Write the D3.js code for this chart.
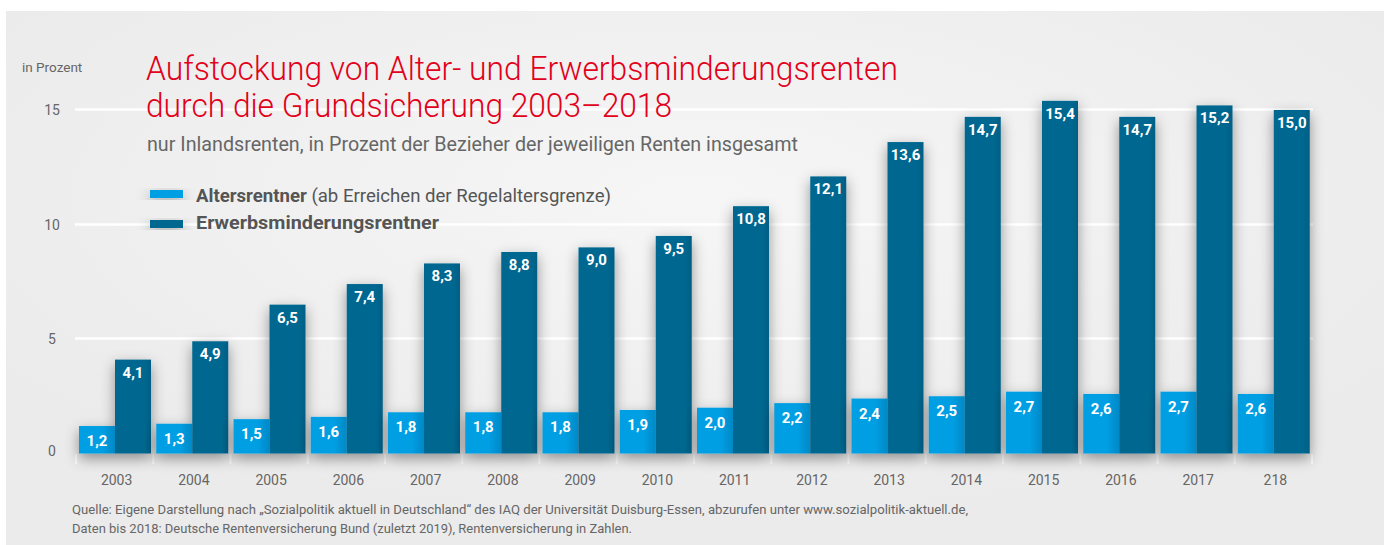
<!DOCTYPE html>
<html>
<head>
<meta charset="utf-8">
<script src="https://cdn.jsdelivr.net/npm/d3@7"></script>
<style>
  body { margin: 0; background: #fff; }
  svg { display: block; }
  text { font-family: Roboto, 'Open Sans', sans-serif; }
</style>
</head>
<body>
<div id="chart1"></div>
<script>
'use strict';

// data
var years = ['2003', '2004', '2005', '2006', '2007', '2008', '2009', '2010',
	'2011', '2012', '2013', '2014', '2015', '2016', '2017', '218'];
var altersrentner = [1.2, 1.3, 1.5, 1.6, 1.8, 1.8, 1.8, 1.9, 2.0, 2.2, 2.4, 2.5, 2.7, 2.6, 2.7, 2.6];
var erwerbsminderung = [4.1, 4.9, 6.5, 7.4, 8.3, 8.8, 9.0, 9.5, 10.8, 12.1, 13.6, 14.7, 15.4, 14.7, 15.2, 15.0];
var yTicks = [0, 5, 10, 15];
var seriesKeys = ['alt', 'erw'];

var width = 1387;
var height = 545;

var svg = d3.select('#chart1').append('svg')
	.attr('width', width)
	.attr('height', height);

var defs = svg.append('defs');

var bg = defs.append('radialGradient')
	.attr('id', 'bg')
	.attr('cx', '0.5').attr('cy', '0.35').attr('r', '0.6');
bg.append('stop').attr('offset', '0%').attr('stop-color', '#f6f6f6');
bg.append('stop').attr('offset', '100%').attr('stop-color', '#ebebeb');

var lightGrad = defs.append('linearGradient').attr('id', 'lightGrad');
lightGrad.append('stop').attr('offset', '0%').attr('stop-color', '#009fe3');
lightGrad.append('stop').attr('offset', '65%').attr('stop-color', '#009fe3');
lightGrad.append('stop').attr('offset', '100%').attr('stop-color', '#0088c6');

var darkGrad = defs.append('linearGradient').attr('id', 'darkGrad');
darkGrad.append('stop').attr('offset', '0%').attr('stop-color', '#006890');
darkGrad.append('stop').attr('offset', '80%').attr('stop-color', '#006890');
darkGrad.append('stop').attr('offset', '100%').attr('stop-color', '#005f85');

var shadow = defs.append('filter')
	.attr('id', 'shadow')
	.attr('x', '-50%').attr('y', '-20%').attr('width', '200%').attr('height', '140%');
shadow.append('feDropShadow')
	.attr('dx', 0).attr('dy', 5)
	.attr('stdDeviation', 7)
	.attr('flood-color', '#000')
	.attr('flood-opacity', 0.4);

// panel
svg.append('rect')
	.attr('x', 6).attr('y', 11)
	.attr('width', 1378).attr('height', height - 11)
	.attr('fill', 'url(#bg)');

var x = d3.scaleBand()
	.domain(years)
	.range([76, 1312]);

var xInner = d3.scaleBand()
	.domain(seriesKeys)
	.range([3, 75]);

var y = d3.scaleLinear()
	.domain([0, 15])
	.range([453.5, 110]);

var fmt = function(v) {
	return d3.format('.1f')(v).replace('.', ',');
};

// gridlines
svg.append('g').selectAll('line')
	.data(yTicks.filter(function(d) { return d > 0; }))
	.enter().append('line')
	.attr('x1', 75).attr('x2', 1313)
	.attr('y1', function(d) { return Math.round(y(d)) - 0.5; })
	.attr('y2', function(d) { return Math.round(y(d)) - 0.5; })
	.style('stroke', '#ffffff')
	.style('stroke-width', 2.5);

// y labels
svg.append('g').selectAll('text')
	.data(yTicks)
	.enter().append('text')
	.attr('x', 52)
	.attr('y', function(d) { return y(d) + (d === 0 ? 2 : 5); })
	.attr('text-anchor', 'middle')
	.style('font-size', '14px')
	.style('fill', '#666')
	.text(function(d) { return d; });

svg.append('text')
	.attr('x', 22).attr('y', 72)
	.style('font-size', '13.5px')
	.style('fill', '#666')
	.text('in Prozent');

// title block
var title = svg.append('g').style('fill', '#e2001a');
title.append('text')
	.attr('x', 146).attr('y', 80)
	.attr('textLength', 752).attr('lengthAdjust', 'spacingAndGlyphs')
	.style('font-size', '33px').style('font-weight', 300)
	.text('Aufstockung von Alter- und Erwerbsminderungsrenten');
title.append('text')
	.attr('x', 146).attr('y', 117)
	.attr('textLength', 526).attr('lengthAdjust', 'spacingAndGlyphs')
	.style('font-size', '33px').style('font-weight', 300)
	.text('durch die Grundsicherung 2003\u20132018');

svg.append('text')
	.attr('x', 147).attr('y', 151)
	.attr('textLength', 651).attr('lengthAdjust', 'spacingAndGlyphs')
	.style('font-size', '20px').style('font-weight', 400)
	.style('fill', '#666')
	.text('nur Inlandsrenten, in Prozent der Bezieher der jeweiligen Renten insgesamt');

// legend
var legend = svg.append('g');
legend.append('rect')
	.attr('x', 150).attr('y', 190).attr('width', 33).attr('height', 8)
	.attr('fill', '#009fe3').attr('filter', 'url(#shadow)');
legend.append('rect')
	.attr('x', 150).attr('y', 220).attr('width', 33).attr('height', 8)
	.attr('fill', '#006890').attr('filter', 'url(#shadow)');
var l1 = legend.append('text')
	.attr('x', 196).attr('y', 202)
	.attr('textLength', 415).attr('lengthAdjust', 'spacingAndGlyphs')
	.style('font-size', '18px').style('fill', '#555');
l1.append('tspan').style('font-weight', 700).text('Altersrentner');
l1.append('tspan').text(' (ab Erreichen der Regelaltersgrenze)');
legend.append('text')
	.attr('x', 196).attr('y', 229)
	.attr('textLength', 243).attr('lengthAdjust', 'spacingAndGlyphs')
	.style('font-size', '18px').style('font-weight', 700).style('fill', '#555')
	.text('Erwerbsminderungsrentner');

// axis ticks under the bars
svg.append('g').selectAll('line')
	.data(years.concat(['end']))
	.enter().append('line')
	.attr('x1', function(d, i) { return x.range()[0] + i * x.step(); })
	.attr('x2', function(d, i) { return x.range()[0] + i * x.step(); })
	.attr('y1', 454).attr('y2', 464)
	.style('stroke', '#fafafa')
	.style('stroke-width', 2);

// bars
var rows = years.map(function(yr, i) {
	return {year: yr, alt: altersrentner[i], erw: erwerbsminderung[i]};
});

var groups = svg.append('g').selectAll('g')
	.data(rows)
	.enter().append('g')
	.attr('transform', function(d) { return 'translate(' + x(d.year) + ',0)'; });

groups.append('g')
	.attr('filter', 'url(#shadow)')
	.selectAll('rect')
	.data(function(d) { return seriesKeys.map(function(k) { return {key: k, value: d[k]}; }); })
	.enter().append('rect')
	.attr('x', function(d) { return xInner(d.key); })
	.attr('width', xInner.bandwidth())
	.attr('y', function(d) { return y(d.value); })
	.attr('height', function(d) { return y(0) - y(d.value); })
	.attr('fill', function(d) { return d.key === 'alt' ? 'url(#lightGrad)' : 'url(#darkGrad)'; });

groups.selectAll('text.val')
	.data(function(d) { return seriesKeys.map(function(k) { return {key: k, value: d[k]}; }); })
	.enter().append('text')
	.attr('class', 'val')
	.attr('x', function(d) { return xInner(d.key) + xInner.bandwidth() / 2; })
	.attr('y', function(d) { return y(d.value) + (d.key === 'alt' ? 20 : 18); })
	.attr('text-anchor', 'middle')
	.style('font-size', '15px')
	.style('font-weight', 700)
	.style('fill', '#fff')
	.text(function(d) { return fmt(d.value); });

// year labels
svg.append('g').selectAll('text')
	.data(years)
	.enter().append('text')
	.attr('x', function(d) { return x(d) + x.bandwidth() / 2 + 2; })
	.attr('y', 485)
	.attr('text-anchor', 'middle')
	.style('font-size', '14px')
	.style('fill', '#666')
	.text(function(d) { return d; });

// source
var src = svg.append('g').style('fill', '#666').style('font-size', '13px');
src.append('text')
	.attr('x', 72).attr('y', 514)
	.attr('textLength', 896).attr('lengthAdjust', 'spacingAndGlyphs')
	.text('Quelle: Eigene Darstellung nach \u201eSozialpolitik aktuell in Deutschland\u201c des IAQ der Universit\u00e4t Duisburg-Essen, abzurufen unter www.sozialpolitik-aktuell.de,');
src.append('text')
	.attr('x', 72).attr('y', 533)
	.attr('textLength', 560).attr('lengthAdjust', 'spacingAndGlyphs')
	.text('Daten bis 2018: Deutsche Rentenversicherung Bund (zuletzt 2019), Rentenversicherung in Zahlen.');
</script>
</body>
</html>
